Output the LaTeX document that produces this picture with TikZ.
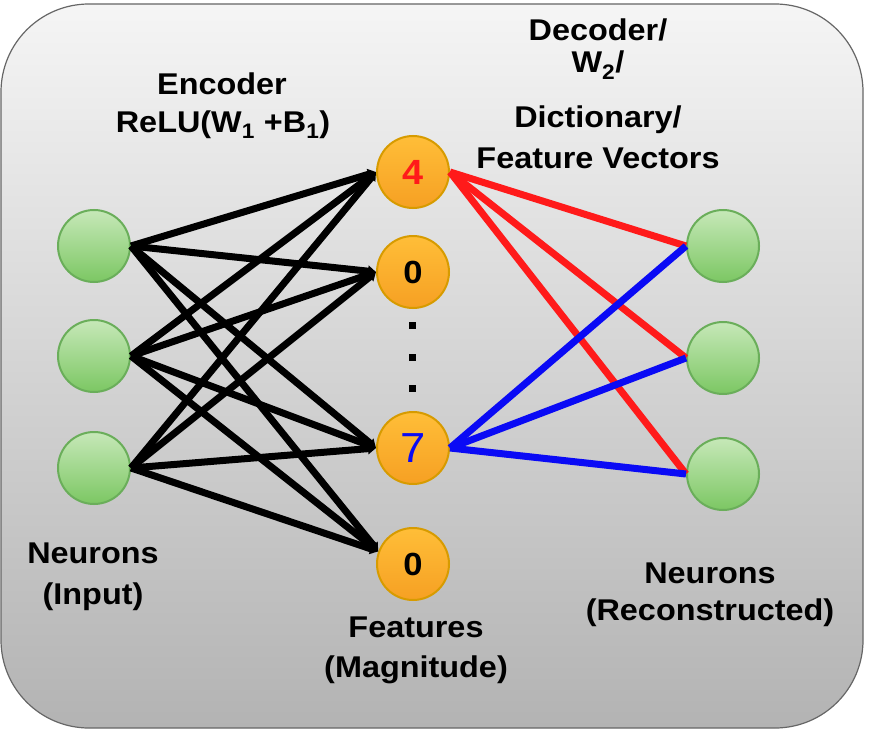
\documentclass[tikz,border=0pt]{standalone}
\usepackage{fontspec}
\setmainfont{Liberation Sans}[FakeStretch=1.08]
\usetikzlibrary{arrows.meta}
\definecolor{bgtop}{HTML}{F5F5F5}
\definecolor{bgbottom}{HTML}{B3B3B3}
\definecolor{bgdraw}{HTML}{666666}
\definecolor{neurontop}{HTML}{C6E8B8}
\definecolor{neuronbottom}{HTML}{7CC763}
\definecolor{neurondraw}{HTML}{6AAE5A}
\definecolor{feattop}{HTML}{FFBE38}
\definecolor{featbottom}{HTML}{F6A023}
\definecolor{featdraw}{HTML}{D79B00}
\definecolor{wred}{HTML}{FF1A1A}
\definecolor{wblue}{HTML}{0A0AF5}

\begin{document}
\begin{tikzpicture}[x=1pt,y=-1pt,
  every node/.append style={font=\fontsize{30}{40}\selectfont\bfseries},
  every circle node/.append style={minimum size=72pt,inner sep=0pt,line width=2pt}]
  \tikzstyle{neuron} = [circle,draw=neurondraw,top color=neurontop,bottom color=neuronbottom]
  \tikzstyle{feature} = [circle,draw=featdraw,top color=feattop,bottom color=featbottom]
  \tikzstyle{word} = [anchor=base,text=black,inner sep=0pt]
  \tikzstyle{enc} = [line width=7pt,black,-{Triangle[length=8pt,width=11pt]}]
  \tikzstyle{dec} = [line width=7pt]
  \useasboundingbox (0,0) rectangle (874,738);
  \draw[draw=bgdraw,line width=1.2pt,rounded corners=88pt,top color=bgtop,bottom color=bgbottom] (1,4) rectangle (863,728);

  \node (in_1) [neuron] at (94,246) {};
  \node (in_2) [neuron] at (94,356) {};
  \node (in_3) [neuron] at (94,468) {};

  \node (ft_1) [feature] at (413,172) {\fontsize{35}{35}\selectfont\color{wred}4};
  \node (ft_2) [feature] at (413,272) {\fontsize{32}{32}\selectfont 0};
  \node (ft_3) [feature] at (413,448) {\fontsize{42}{42}\selectfont\mdseries\color{wblue}7};
  \node (ft_4) [feature] at (413,564) {\fontsize{32}{32}\selectfont 0};

  \node (out_1) [neuron] at (723,246) {};
  \node (out_2) [neuron] at (723,358) {};
  \node (out_3) [neuron] at (723,474) {};

  \fill (409,322) rectangle +(7,7);
  \fill (409,354) rectangle +(7,7);
  \fill (409,385) rectangle +(7,7);

  \draw[enc] (in_1.east) -- (ft_1.west);
  \draw[enc] (in_1.east) -- (ft_2.west);
  \draw[enc] (in_1.east) -- (ft_3.west);
  \draw[enc] (in_1.east) -- (ft_4.160);
  \draw[enc] (in_2.east) -- (ft_1.west);
  \draw[enc] (in_2.east) -- (ft_2.west);
  \draw[enc] (in_2.east) -- (ft_3.west);
  \draw[enc] (in_2.east) -- (ft_4.160);
  \draw[enc] (in_3.east) -- (ft_1.west);
  \draw[enc] (in_3.east) -- (ft_2.west);
  \draw[enc] (in_3.east) -- (ft_3.west);
  \draw[enc] (in_3.east) -- (ft_4.160);

  \draw[dec,wred] (ft_1.east) -- (out_1.west);
  \draw[dec,wred] (ft_1.east) -- (out_2.west);
  \draw[dec,wred] (ft_1.east) -- (out_3.west);
  \draw[dec,wblue] (ft_3.east) -- (out_1.west);
  \draw[dec,wblue] (ft_3.east) -- (out_2.west);
  \draw[dec,wblue] (ft_3.east) -- (out_3.west);

  \node (enc_1) [word] at (222,95) {Encoder};
  \node (enc_2) [word] at (223,133) {ReLU(W\textsubscript{1} +B\textsubscript{1})};
  \node (dec_1) [word] at (598,41) {Decoder/};
  \node (dec_2) [word] at (598,73) {W\textsubscript{2}/};
  \node (dec_3) [word] at (598,128) {Dictionary/};
  \node (dec_4) [word] at (598,168) {Feature Vectors};
  \node (inlab_1) [word] at (93,563) {Neurons};
  \node (inlab_2) [word] at (93,604) {(Input)};
  \node (ftlab_1) [word] at (416,637) {Features};
  \node (ftlab_2) [word] at (416,677) {(Magnitude)};
  \node (outlab_1) [word] at (710,583) {Neurons};
  \node (outlab_2) [word] at (710,620) {(Reconstructed)};
\end{tikzpicture}
\end{document}
